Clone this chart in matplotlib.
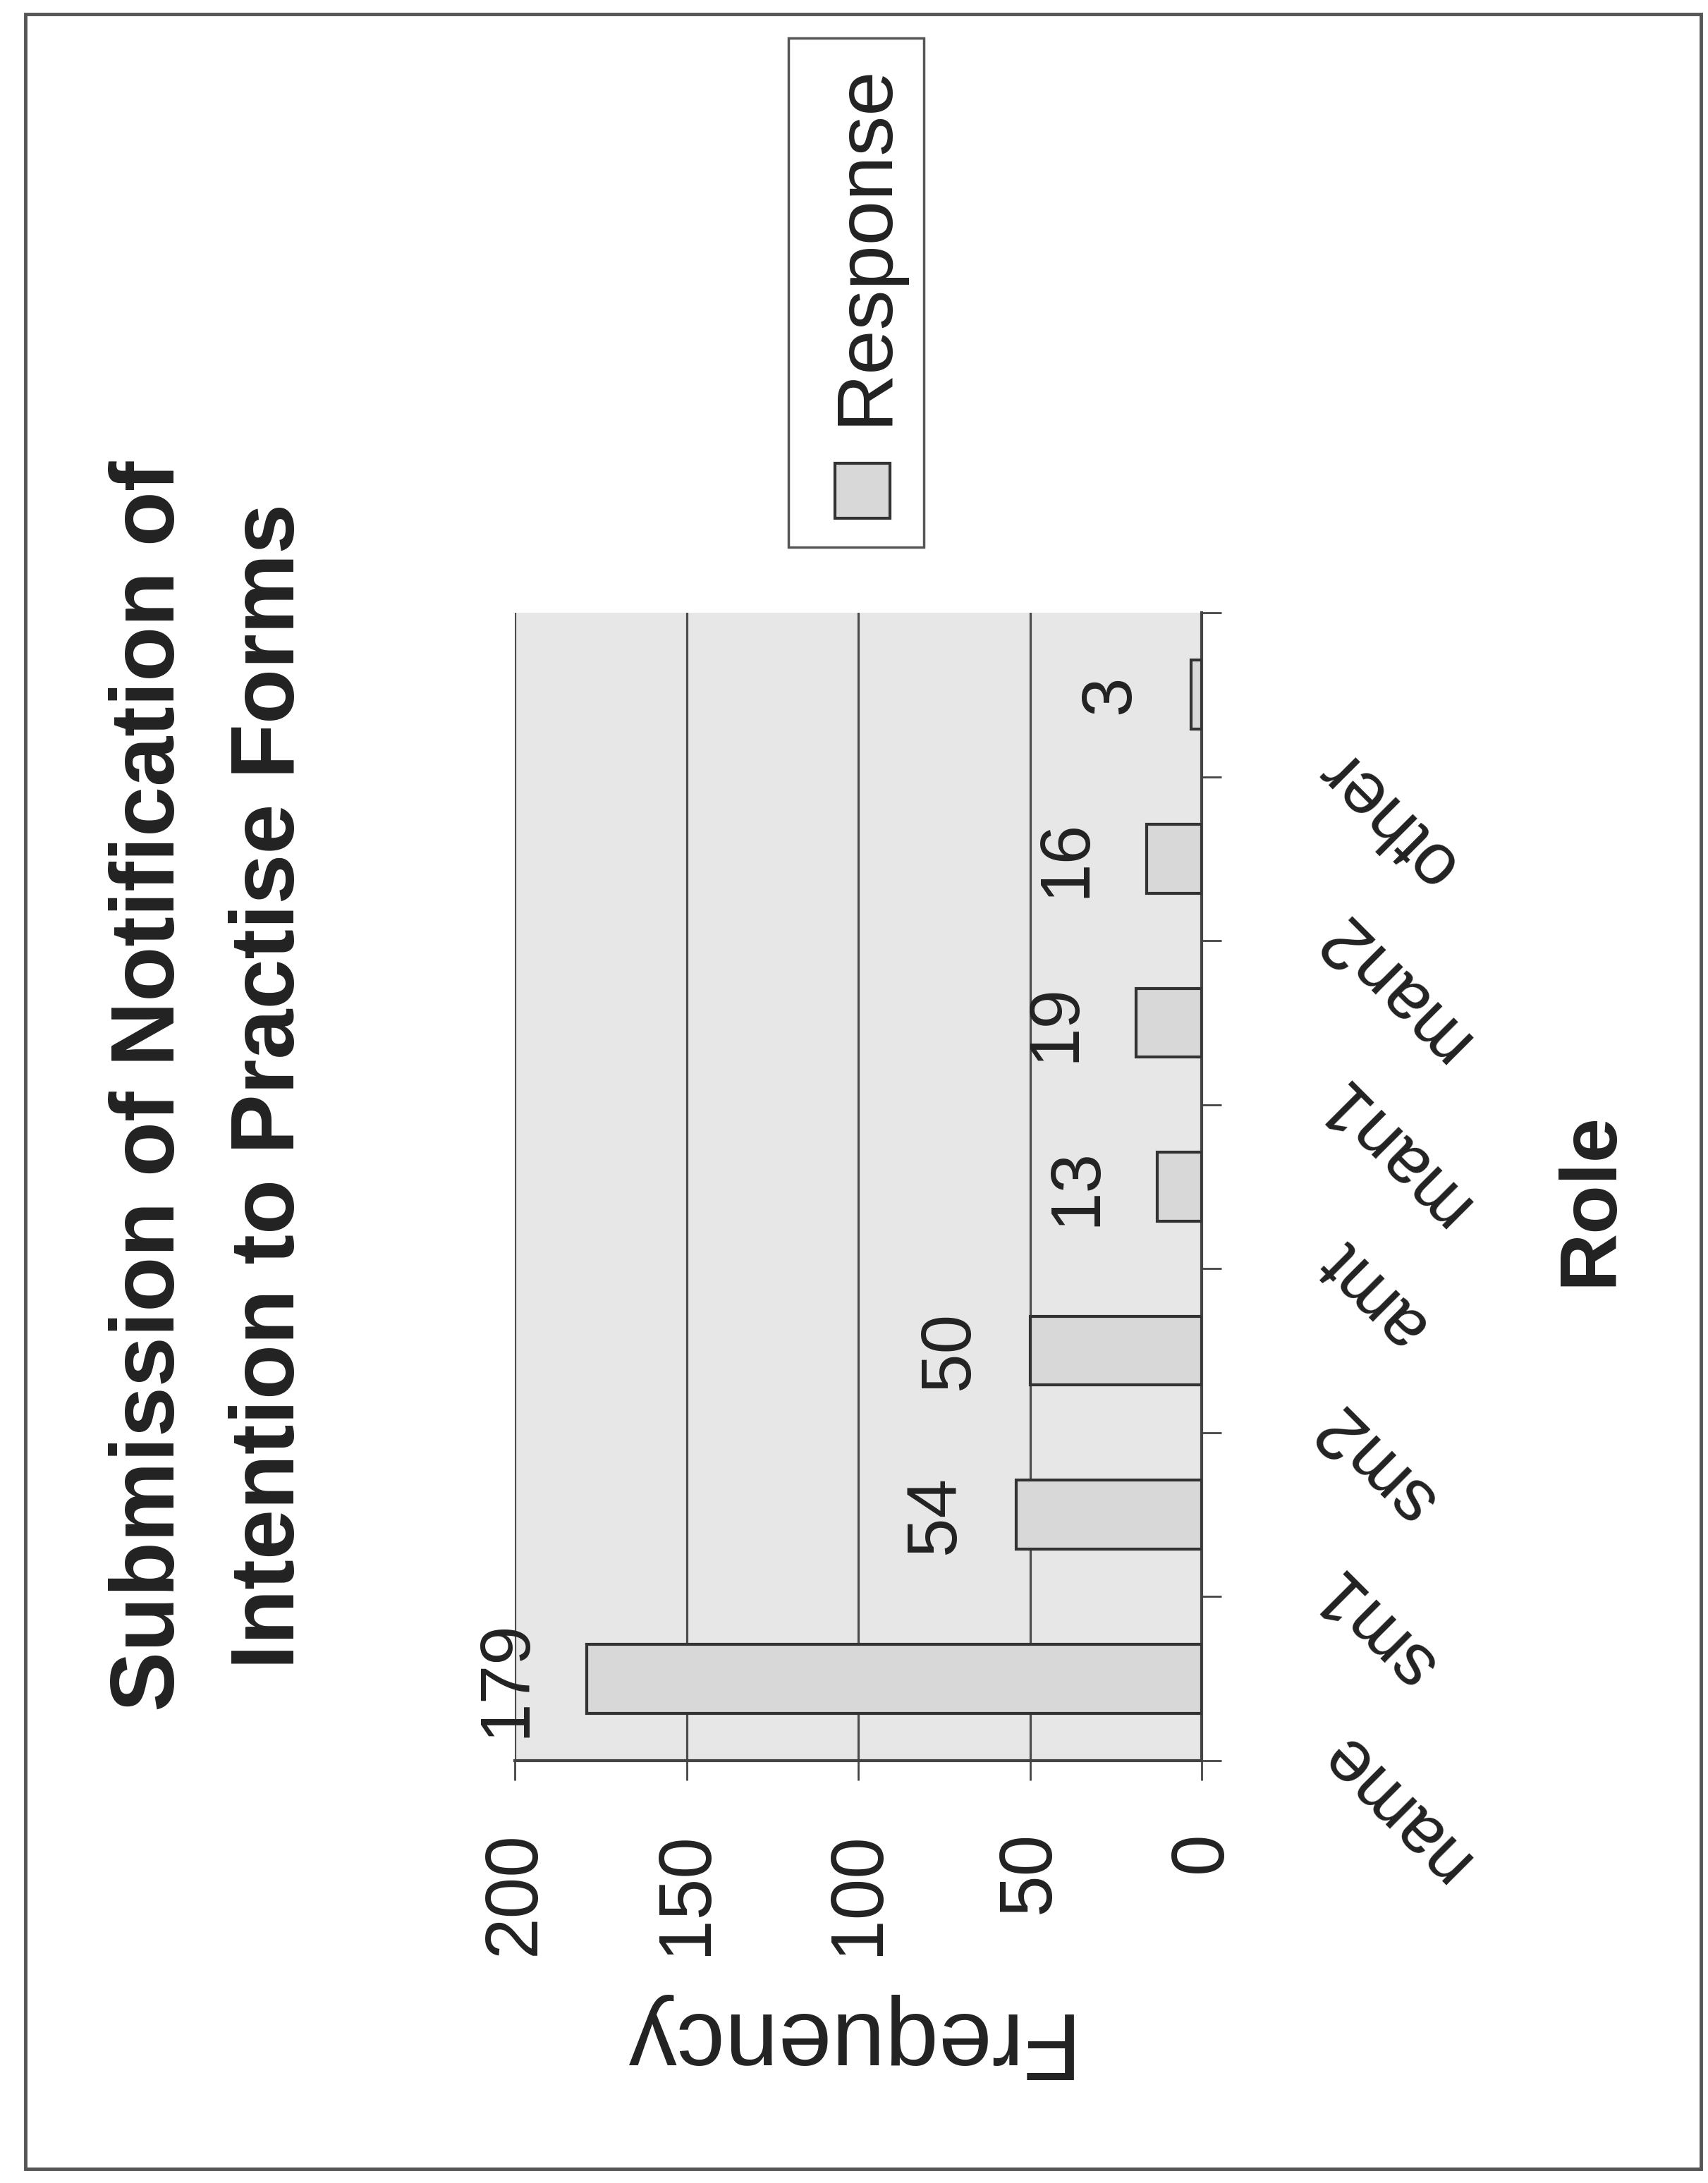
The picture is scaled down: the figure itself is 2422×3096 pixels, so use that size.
import matplotlib as mpl
import numpy as np

mpl.use("Agg")
import matplotlib.pyplot as plt
from matplotlib.patches import Rectangle
from matplotlib.transforms import blended_transform_factory, offset_copy

plt.rcParams["font.family"] = ["Liberation Sans", "DejaVu Sans"]

# chart data
title_lines = ["Submission of Notification of", "Intention to Practise Forms"]
roles = ["name", "sm1", "sm2", "amt", "man1", "man2", "other"]
frequency = [179, 54, 50, 13, 19, 16, 3]
value_ticks = [0, 50, 100, 150, 200]
series_name = "Response"
x_label = "Role"
y_label = "Frequency"

W, H = 2422, 3096
DPI = 100
TEXT = "#222222"
LINE = "#444444"
BAR = "#d8d8d8"


def fx(px):
    return px / W


def fy(py):
    return 1 - py / H


fig = plt.figure(figsize=(W / DPI, H / DPI), dpi=DPI)
fig.patch.set_facecolor("white")

# page border
fig.add_artist(Rectangle((fx(36), fy(3076)), fx(2412) - fx(36), fy(20) - fy(3076),
                         transform=fig.transFigure, fill=False,
                         edgecolor="#555555", linewidth=3.5))

# the whole chart is turned a quarter turn: bars grow leftwards from the right
ax = fig.add_axes([fx(730), fy(2497), fx(1704) - fx(730), fy(869) - fy(2497)])
ax.set_facecolor("#e7e7e7")
pos = np.arange(len(roles))
bars = ax.barh(pos, frequency, height=0.42, color=BAR, edgecolor="#333333",
               linewidth=3, zorder=3)
ax.set_xlim(200, 0)
ax.set_ylim(-0.5, len(roles) - 0.5)

ax.set_xticks(value_ticks)
ax.set_xticklabels([str(v) for v in value_ticks], rotation=90, va="top",
                   ha="center", fontsize=76, color=TEXT)
ax.set_yticks(np.arange(-0.5, len(roles), 1.0))
ax.set_yticklabels([])
ax.yaxis.tick_right()
ax.tick_params(axis="both", direction="out", length=20, width=2, color=LINE)
ax.tick_params(axis="x", pad=52)
ax.grid(axis="x", color="#4d4d4d", linewidth=2.3, zorder=1)
ax.set_axisbelow(True)
for side in ["top", "left"]:
    ax.spines[side].set_visible(False)
for side in ["right", "bottom"]:
    ax.spines[side].set_color(LINE)
    ax.spines[side].set_linewidth(3)

# category labels, slanted and upside down like the turned original
label_tr = offset_copy(blended_transform_factory(ax.transAxes, ax.transData),
                       fig=fig, x=180 * 0.72, y=-90 * 0.72, units="points")
for p, r in zip(pos, roles):
    ax.text(1.0, p, r, transform=label_tr, rotation=135, rotation_mode="anchor",
            ha="right", va="center", fontsize=74, color=TEXT, clip_on=False)

# value labels outside the bar ends
ax.bar_label(bars, padding=48, rotation=90, fontsize=72, color=TEXT)

# legend box
fig.add_artist(Rectangle((fx(1118), fy(776)), fx(1310) - fx(1118), fy(54) - fy(776),
                         transform=fig.transFigure, facecolor="white",
                         edgecolor="#555555", linewidth=2.5))
fig.add_artist(Rectangle((fx(1184), fy(735)), fx(1262) - fx(1184), fy(657) - fy(735),
                         transform=fig.transFigure, facecolor=BAR,
                         edgecolor="#333333", linewidth=3))
fig.text(fx(1257), fy(347), series_name, rotation=90, rotation_mode="anchor",
         ha="center", va="baseline", fontsize=82, color=TEXT)

# title and axis titles
for line, base in zip(title_lines, [247, 417]):
    fig.text(fx(base), fy(1540), line, rotation=90, rotation_mode="anchor",
             ha="center", va="baseline", fontsize=92, fontweight="bold", color=TEXT)
fig.text(fx(2285), fy(1700), x_label, rotation=90, rotation_mode="anchor",
         ha="center", va="baseline", fontsize=82, fontweight="bold", color=TEXT)
fig.text(fx(1190), fy(2855), y_label, rotation=180, rotation_mode="anchor",
         ha="center", va="baseline", fontsize=98, color=TEXT)

fig.savefig("out.png", dpi=DPI)
plt.close(fig)
